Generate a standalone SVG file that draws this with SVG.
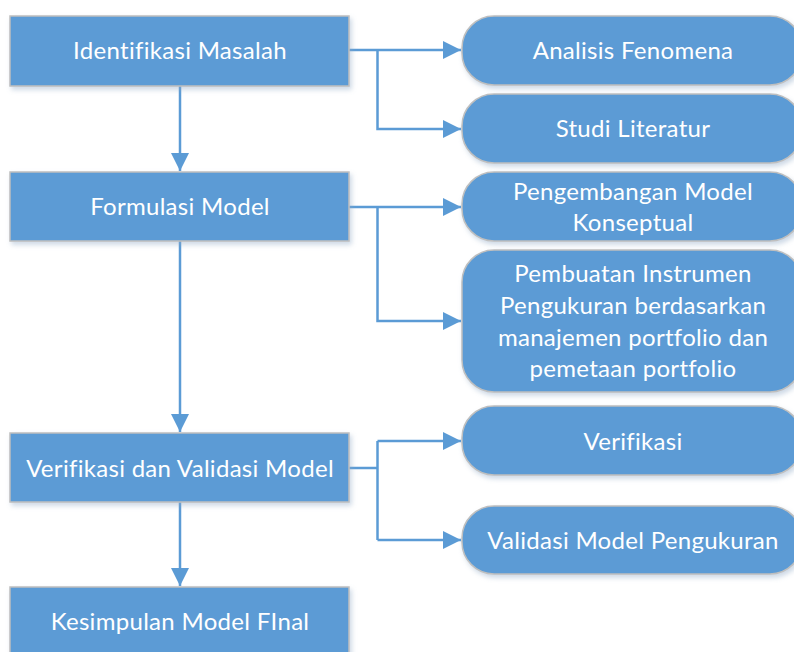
<svg xmlns="http://www.w3.org/2000/svg" width="794" height="652" viewBox="0 0 794 652">
  <style>
    .box { fill: #5B9BD5; stroke: #BFBFBF; stroke-width: 1.5; filter: url(#shadow); }
    .lbl { fill: #FFFFFF; font-family: Lato, "Liberation Sans", sans-serif; font-size: 24px; text-anchor: middle; letter-spacing: 0.3px; font-variant-ligatures: none; }
    .wire { fill: none; stroke: #5B9BD5; stroke-width: 2.5; }
  </style>
  <defs>
    <filter id="shadow" x="-10%" y="-20%" width="125%" height="150%">
      <feGaussianBlur in="SourceAlpha" stdDeviation="2.5"/>
      <feOffset dx="2" dy="3" result="blur"/>
      <feFlood flood-color="#8FA9C6" flood-opacity="0.45"/>
      <feComposite in2="blur" operator="in"/>
      <feMerge>
        <feMergeNode/>
        <feMergeNode in="SourceGraphic"/>
      </feMerge>
    </filter>
    <marker id="head" markerWidth="8" markerHeight="8" refX="7.2" refY="3.6" orient="auto" markerUnits="strokeWidth">
      <path d="M0,0 L7.2,3.6 L0,7.2 Z" fill="#5B9BD5"/>
    </marker>
  </defs>

  <!-- connectors -->
  <g id="connectors">
    <path class="wire" d="M180,86 V171" marker-end="url(#head)"/>
    <path class="wire" d="M180,241 V432" marker-end="url(#head)"/>
    <path class="wire" d="M180,502 V586" marker-end="url(#head)"/>

    <path class="wire" d="M349,50 H461" marker-end="url(#head)"/>
    <path class="wire" d="M377.5,50 V129 H461" marker-end="url(#head)"/>

    <path class="wire" d="M349,207 H461" marker-end="url(#head)"/>
    <path class="wire" d="M377.5,207 V321 H461" marker-end="url(#head)"/>

    <path class="wire" d="M349,468 H377.5"/>
    <path class="wire" d="M377.5,441 V540"/>
    <path class="wire" d="M377.5,441 H461" marker-end="url(#head)"/>
    <path class="wire" d="M377.5,540 H461" marker-end="url(#head)"/>
  </g>

  <!-- main process steps -->
  <g id="identifikasi">
    <rect class="box" x="10" y="16" width="339" height="70"/>
    <text class="lbl" x="180" y="59">Identifikasi Masalah</text>
  </g>
  <g id="formulasi">
    <rect class="box" x="10" y="172" width="339" height="69"/>
    <text class="lbl" x="180" y="215">Formulasi Model</text>
  </g>
  <g id="verval">
    <rect class="box" x="10" y="433" width="339" height="69"/>
    <text class="lbl" x="180" y="477">Verifikasi dan Validasi Model</text>
  </g>
  <g id="kesimpulan">
    <rect class="box" x="10" y="587" width="339" height="70"/>
    <text class="lbl" x="180" y="630">Kesimpulan Model FInal</text>
  </g>

  <!-- sub-activities -->
  <g id="analisis">
    <rect class="box" x="462" y="16" width="340" height="69" rx="32" ry="32"/>
    <text class="lbl" x="633" y="59">Analisis Fenomena</text>
  </g>
  <g id="literatur">
    <rect class="box" x="462" y="94" width="340" height="69" rx="32" ry="32"/>
    <text class="lbl" x="633" y="137">Studi Literatur</text>
  </g>
  <g id="konseptual">
    <rect class="box" x="462" y="172" width="340" height="69" rx="32" ry="32"/>
    <text class="lbl" x="633" y="200">Pengembangan Model</text>
    <text class="lbl" x="633" y="231">Konseptual</text>
  </g>
  <g id="instrumen">
    <rect class="box" x="462" y="250" width="340" height="142" rx="32" ry="32"/>
    <text class="lbl" x="633" y="282">Pembuatan Instrumen</text>
    <text class="lbl" x="633" y="314">Pengukuran berdasarkan</text>
    <text class="lbl" x="633" y="346">manajemen portfolio dan</text>
    <text class="lbl" x="633" y="377">pemetaan portfolio</text>
  </g>
  <g id="verifikasi">
    <rect class="box" x="462" y="406" width="340" height="69" rx="32" ry="32"/>
    <text class="lbl" x="633" y="450">Verifikasi</text>
  </g>
  <g id="validasi">
    <rect class="box" x="462" y="506" width="340" height="68" rx="32" ry="32"/>
    <text class="lbl" x="633" y="549">Validasi Model Pengukuran</text>
  </g>
</svg>
